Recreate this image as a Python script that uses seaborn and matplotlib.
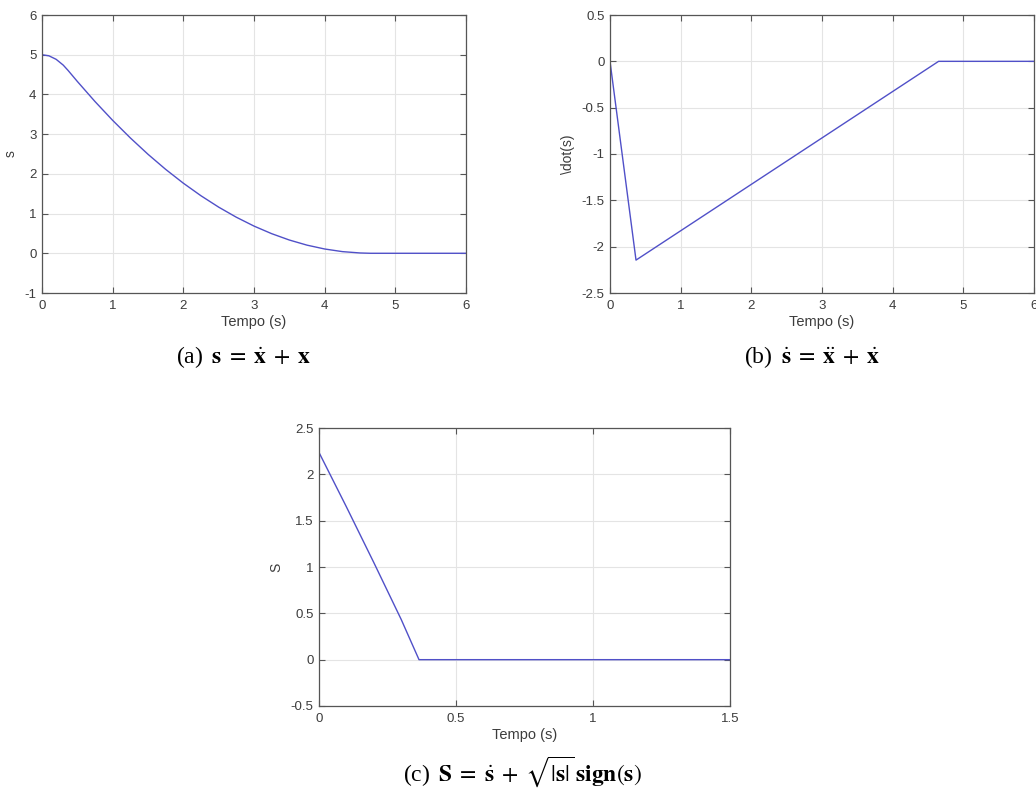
import numpy as np
import pandas as pd
import matplotlib
matplotlib.use("Agg")
import matplotlib.pyplot as plt
import seaborn as sns

# (a) sliding variable s over time
t_a = [0.0, 0.1, 0.2, 0.3, 0.37, 0.5, 0.75, 1.0, 1.25, 1.5, 1.75, 2.0, 2.25,
       2.5, 2.75, 3.0, 3.25, 3.5, 3.75, 4.0, 4.25, 4.5, 4.65, 5.0, 6.0]
s_a = [5.0, 4.971, 4.884, 4.739, 4.602, 4.327, 3.821, 3.347, 2.905, 2.493,
       2.113, 1.765, 1.448, 1.162, 0.908, 0.685, 0.494, 0.334, 0.205, 0.108,
       0.042, 0.008, 0.0, 0.0, 0.0]

# (b) derivative of s
t_b = [0.0, 0.368, 4.65, 6.0]
s_b = [0.0, -2.145, 0.0, 0.0]

# (c) composite surface S
t_c = [0.0, 0.1, 0.2, 0.3, 0.365, 1.5]
s_c = [2.236, 1.649, 1.048, 0.434, 0.0, 0.0]

x_ticks_ab = [0, 1, 2, 3, 4, 5, 6]
y_ticks_a = [-1, 0, 1, 2, 3, 4, 5, 6]
y_ticks_b = [-2.5, -2, -1.5, -1, -0.5, 0, 0.5]
x_ticks_c = [0, 0.5, 1, 1.5]
y_ticks_c = [-0.5, 0, 0.5, 1, 1.5, 2, 2.5]

sns.set_theme(style="ticks")
plt.rcParams["font.family"] = ["Liberation Sans", "DejaVu Sans"]
plt.rcParams["mathtext.fontset"] = "stix"

LINE = "#5050c8"
EDGE = "#555555"
GRID = "#e4e4e4"
TXT = "#3c3c3c"

fig = plt.figure(figsize=(10.36, 7.89), dpi=100)
W, H = 1036, 789


def make_axes(l, t, r, b):
    return fig.add_axes([l / W, 1 - b / H, (r - l) / W, (b - t) / H])


def style(ax, xt, yt, xlim, ylim, ylabel, ylabel_x):
    ax.set_xlim(*xlim)
    ax.set_ylim(*ylim)
    ax.set_xticks(xt)
    ax.set_yticks(yt)
    ax.set_xticklabels([f"{v:g}" for v in xt])
    ax.set_yticklabels([f"{v:g}" for v in yt])
    ax.grid(True, color=GRID, linewidth=0.8)
    ax.set_axisbelow(True)
    for sp in ax.spines.values():
        sp.set_visible(True)
        sp.set_color(EDGE)
        sp.set_linewidth(0.9)
    ax.tick_params(direction="in", length=4, width=0.8, colors=EDGE,
                   labelcolor=TXT, labelsize=9.5, top=True, right=True)
    ax.tick_params(axis="x", pad=5)
    ax.tick_params(axis="y", pad=4)
    ax.set_xlabel("Tempo (s)", fontsize=10.5, color=TXT, labelpad=2)
    ax.set_ylabel(ylabel, fontsize=10, color=TXT)
    ax.yaxis.set_label_coords(ylabel_x, 0.5)


ax_a = make_axes(42, 15, 466, 293)
sns.lineplot(data=pd.DataFrame({"t": t_a, "v": s_a}), x="t", y="v", ax=ax_a,
             color=LINE, linewidth=1.0, estimator=None, sort=False)
style(ax_a, x_ticks_ab, y_ticks_a, (0, 6), (-1, 6), "s", -0.057)

ax_b = make_axes(610, 15, 1034, 293)
sns.lineplot(data=pd.DataFrame({"t": t_b, "v": s_b}), x="t", y="v", ax=ax_b,
             color=LINE, linewidth=1.0, estimator=None, sort=False)
style(ax_b, x_ticks_ab, y_ticks_b, (0, 6), (-2.5, 0.5), "\\dot(s)", -0.083)

ax_c = make_axes(319, 428, 730, 706)
sns.lineplot(data=pd.DataFrame({"t": t_c, "v": s_c}), x="t", y="v", ax=ax_c,
             color=LINE, linewidth=1.0, estimator=None, sort=False)
style(ax_c, x_ticks_c, y_ticks_c, (0, 1.5), (-0.5, 2.5), "S", -0.088)

cap = dict(fontsize=17, color="black", ha="center", va="center",
           family="Liberation Serif")
fig.text(244 / W, 1 - 357 / H,
         r"(a)$\;\;\mathbf{s} \;=\; \dot{\mathbf{x}} \;+\; \mathbf{x}$", **cap)
fig.text(812 / W, 1 - 357 / H,
         r"(b)$\;\;\dot{\mathbf{s}} \;=\; \ddot{\mathbf{x}} \;+\; \dot{\mathbf{x}}$", **cap)
fig.text(522 / W, 1 - 772 / H,
         r"(c)$\;\;\mathbf{S} \;=\; \dot{\mathbf{s}} \;+\; \sqrt{|\mathbf{s}|}\,\mathbf{sign}(\mathbf{s})$",
         **cap)

fig.savefig("out.png", dpi=100, facecolor="white")
